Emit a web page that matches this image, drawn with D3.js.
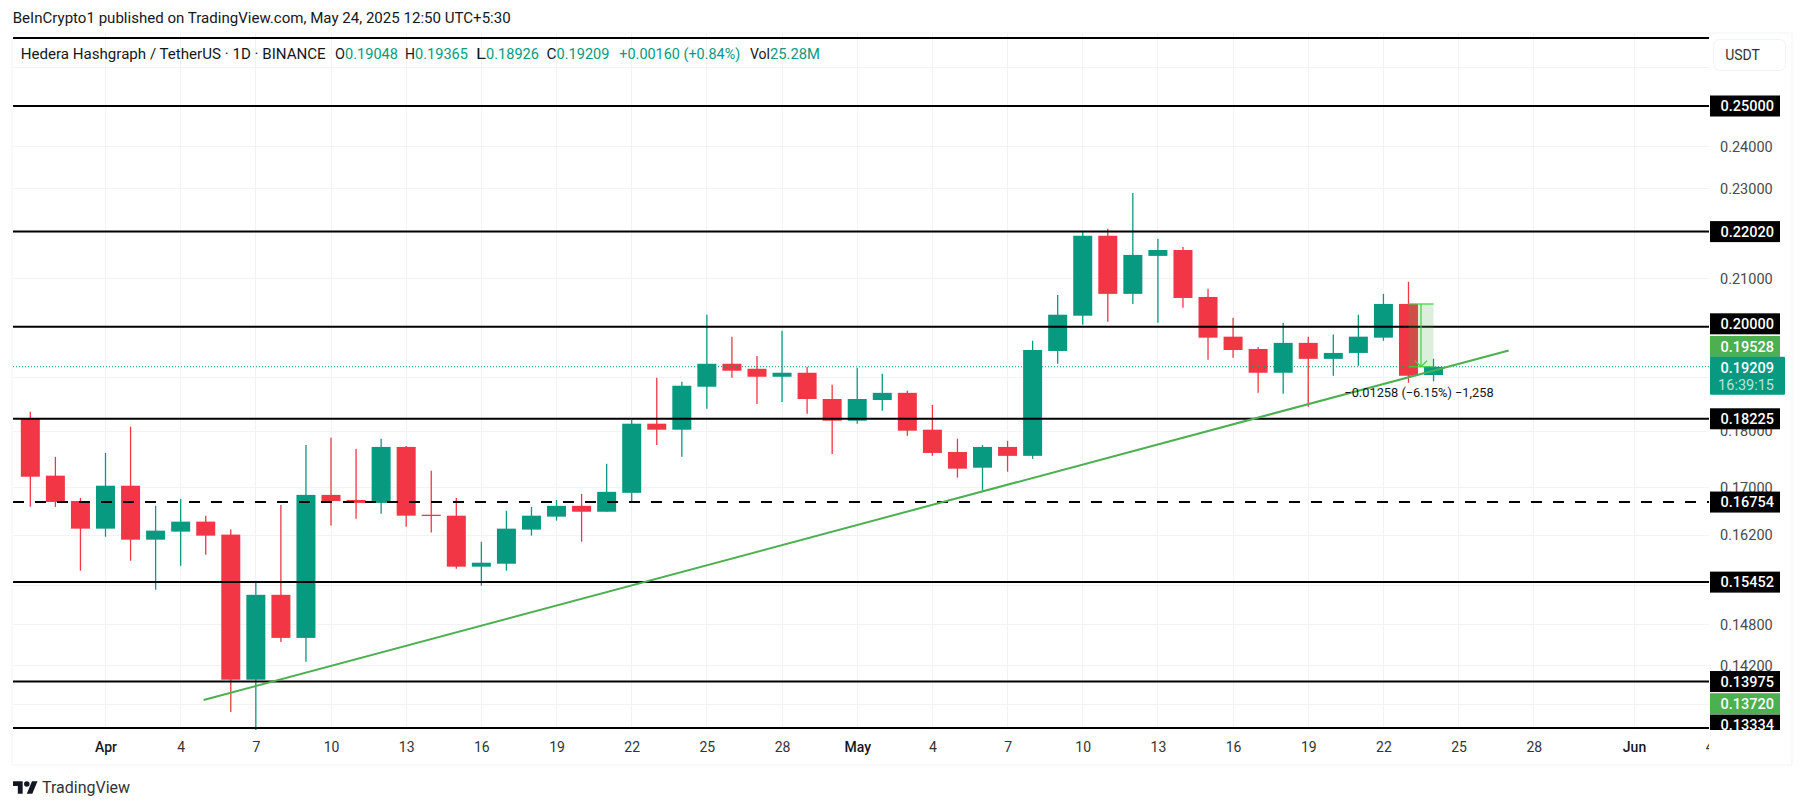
<!DOCTYPE html>
<html>
<head>
<meta charset="utf-8">
<title>HBAR / USDT</title>
<script src="https://d3js.org/d3.v7.min.js"></script>
<style>
  body { margin: 0; background: #fff; }
  text { font-family: Roboto, sans-serif; }
  .date-axis text { font-size: 14px; fill: #333; }
  .price-axis text { font-size: 14.5px; fill: #4a4a4a; }
</style>
</head>
<body>
<div id="chart"></div>
<script>
const days = [
  '2025-03-29', '2025-03-30', '2025-03-31',
  '2025-04-01', '2025-04-02', '2025-04-03', '2025-04-04', '2025-04-05', '2025-04-06', '2025-04-07', '2025-04-08', '2025-04-09', '2025-04-10',
  '2025-04-11', '2025-04-12', '2025-04-13', '2025-04-14', '2025-04-15', '2025-04-16', '2025-04-17', '2025-04-18', '2025-04-19', '2025-04-20',
  '2025-04-21', '2025-04-22', '2025-04-23', '2025-04-24', '2025-04-25', '2025-04-26', '2025-04-27', '2025-04-28', '2025-04-29', '2025-04-30',
  '2025-05-01', '2025-05-02', '2025-05-03', '2025-05-04', '2025-05-05', '2025-05-06', '2025-05-07', '2025-05-08', '2025-05-09', '2025-05-10',
  '2025-05-11', '2025-05-12', '2025-05-13', '2025-05-14', '2025-05-15', '2025-05-16', '2025-05-17', '2025-05-18', '2025-05-19', '2025-05-20',
  '2025-05-21', '2025-05-22', '2025-05-23', '2025-05-24'
]
const opens = [
  0.18226, 0.17207, 0.16772,
  0.16310, 0.17033, 0.16129, 0.16261, 0.16426, 0.16212, 0.14001, 0.15255, 0.14605, 0.16876,
  0.16789, 0.16740, 0.17714, 0.16541, 0.16525, 0.15695, 0.15742, 0.16294, 0.16509, 0.16690,
  0.16591, 0.16911, 0.18135, 0.18025, 0.18825, 0.19267, 0.19170, 0.19016, 0.19093, 0.18593,
  0.18190, 0.18574, 0.18709, 0.18025, 0.17624, 0.17346, 0.17714, 0.17555, 0.19518, 0.20226,
  0.21928, 0.20677, 0.21486, 0.21614, 0.20613, 0.19802, 0.19557, 0.19093, 0.19678, 0.19363,
  0.19479, 0.19782, 0.20468, 0.19048
]
const highs = [
  0.18354, 0.17537, 0.16824,
  0.17607, 0.18080, 0.16690, 0.16806, 0.16525, 0.16294, 0.15460, 0.16706, 0.17750, 0.17879,
  0.17677, 0.17861, 0.17732, 0.17294, 0.16824, 0.16096, 0.16608, 0.16673, 0.16789, 0.16893,
  0.17415, 0.18208, 0.18997, 0.18920, 0.20246, 0.19802, 0.19421, 0.19923, 0.19209, 0.18863,
  0.19190, 0.19074, 0.18747, 0.18483, 0.17861, 0.17750, 0.17824, 0.19721, 0.20656, 0.22017,
  0.22084, 0.22896, 0.21860, 0.21681, 0.20783, 0.20185, 0.19598, 0.20084, 0.19802, 0.19843,
  0.20246, 0.20677, 0.20932, 0.19365
]
const lows = [
  0.16673, 0.16673, 0.15632,
  0.16178, 0.15789, 0.15334, 0.15711, 0.15884, 0.13553, 0.13307, 0.14545, 0.14257, 0.16360,
  0.16475, 0.16558, 0.16343, 0.16245, 0.15664, 0.15397, 0.15632, 0.16195, 0.16443, 0.16096,
  0.16591, 0.16772, 0.17750, 0.17537, 0.18409, 0.18997, 0.18501, 0.18537, 0.18318, 0.17589,
  0.18135, 0.18373, 0.17916, 0.17555, 0.17172, 0.16946, 0.17276, 0.17502, 0.19267, 0.20044,
  0.20105, 0.20468, 0.20084, 0.20387, 0.19344, 0.19383, 0.18709, 0.18690, 0.18446, 0.19035,
  0.19228, 0.19721, 0.18901, 0.18926
]
const closes = [
  0.17189, 0.16756, 0.16310,
  0.17033, 0.16129, 0.16277, 0.16426, 0.16195, 0.14001, 0.15255, 0.14605, 0.16876, 0.16772,
  0.16740, 0.17714, 0.16525, 0.16525, 0.15695, 0.15758, 0.16310, 0.16525, 0.16690, 0.16591,
  0.16928, 0.18135, 0.18025, 0.18844, 0.19267, 0.19132, 0.19016, 0.19093, 0.18593, 0.18190,
  0.18593, 0.18709, 0.18007, 0.17607, 0.17329, 0.17714, 0.17555, 0.19537, 0.20246, 0.21928,
  0.20677, 0.21507, 0.21614, 0.20592, 0.19782, 0.19537, 0.19093, 0.19678, 0.19363, 0.19479,
  0.19802, 0.20468, 0.19035, 0.19209
]

const dateTicks = [
  '2025-04-01', '2025-04-04', '2025-04-07', '2025-04-10', '2025-04-13', '2025-04-16', '2025-04-19', '2025-04-22', '2025-04-25', '2025-04-28',
  '2025-05-01', '2025-05-04', '2025-05-07', '2025-05-10', '2025-05-13', '2025-05-16', '2025-05-19', '2025-05-22', '2025-05-25', '2025-05-28',
  '2025-06-01', '2025-06-04'
]
const dateTickLabels = ['Apr', '4', '7', '10', '13', '16', '19', '22', '25', '28', 'May', '4', '7', '10', '13', '16', '19', '22', '25', '28', 'Jun', '4']
const monthLabels = ['Apr', 'May', 'Jun']

const priceTicks = [0.24, 0.23, 0.21, 0.18, 0.17, 0.162, 0.148, 0.142]
const hiddenGridPrices = [0.26, 0.25, 0.22, 0.20, 0.19, 0.154, 0.1365]

const solidLevels = [0.26777, 0.25, 0.2202, 0.2, 0.18225, 0.15452, 0.13975, 0.13334]
const dashedLevel = 0.16754
const levelLabels = [0.25, 0.2202, 0.2, 0.18225, 0.16754, 0.15452, 0.13975, 0.13334]
const trendDays = ['2025-04-04T22:00Z', '2025-05-27T00:00Z']
const trendPrices = [0.13716, 0.19528]
const trendLabels = [0.19528, 0.1372]
const lastPrice = 0.19209
const countdown = '16:39:15'
const measureDays = ['2025-05-23', '2025-05-24']
const measurePrices = [0.20467, 0.19209]
const measureText = '\u22120.01258 (\u22126.15%) \u22121,258'

const legendLabels = ['O', 'H', 'L', 'C']
const legendValues = ['0.19048', '0.19365', '0.18926', '0.19209']

const width = 1804
const height = 809
const plotLeft = 13
const plotRight = 1709
const plotTop = 33
const plotBottom = 730

const green = '#089981'
const red = '#f23645'
const lineGreen = '#4caf50'
const ink = '#131722'
const gridColor = '#f2f3f5'

const parseDay = d => new Date(d.length === 10 ? d + 'T00:00Z' : d)

const x = d3.scaleUtc()
  .domain([parseDay('2025-04-01'), parseDay('2025-06-01')])
  .range([105.5, 1634])
const y = d3.scaleLog()
  .domain([0.25, 0.13334])
  .range([106, 728])

const svg = d3.select('#chart')
  .append('svg')
  .attr('width', width)
  .attr('height', height)

const defs = svg.append('defs')
defs.append('clipPath').attr('id', 'plot-clip')
  .append('rect')
  .attr('x', plotLeft).attr('y', plotTop)
  .attr('width', plotRight - plotLeft).attr('height', plotBottom - plotTop)
defs.append('clipPath').attr('id', 'scale-clip')
  .append('rect')
  .attr('x', plotRight).attr('y', plotTop)
  .attr('width', 84).attr('height', plotBottom - plotTop)
defs.append('clipPath').attr('id', 'date-clip')
  .append('rect')
  .attr('x', plotLeft).attr('y', plotBottom)
  .attr('width', plotRight - plotLeft).attr('height', 35)

// Text that has to end where the reference ends
function putText (parent, str, left, top, textWidth, fill, size) {
  return parent.append('text')
    .attr('x', left)
    .attr('y', top)
    .attr('dy', '0.35em')
    .attr('textLength', textWidth)
    .attr('lengthAdjust', 'spacingAndGlyphs')
    .style('font-size', `${size}px`)
    .attr('fill', fill)
    .text(str)
}

// Outer frame
svg.append('rect')
  .attr('x', 12).attr('y', plotTop)
  .attr('width', 1780).attr('height', 732)
  .attr('fill', 'none')
  .attr('stroke', '#f3f3f3')

// Grid
const grid = svg.append('g').attr('stroke', gridColor).attr('shape-rendering', 'crispEdges')
grid.selectAll('.vgrid')
  .data(dateTicks)
  .join('line')
  .attr('class', 'vgrid')
  .attr('x1', d => x(parseDay(d)))
  .attr('x2', d => x(parseDay(d)))
  .attr('y1', plotTop)
  .attr('y2', plotBottom)
  .attr('clip-path', 'url(#plot-clip)')
grid.selectAll('.hgrid')
  .data(priceTicks.concat(hiddenGridPrices))
  .join('line')
  .attr('class', 'hgrid')
  .attr('x1', plotLeft)
  .attr('x2', plotRight)
  .attr('y1', d => y(d))
  .attr('y2', d => y(d))

// Axes
const dateAxis = d3.axisBottom(x)
  .tickValues(dateTicks.map(parseDay))
  .tickSize(0)
  .tickPadding(12)
  .tickFormat((d, i) => dateTickLabels[i])
svg.append('g')
  .attr('clip-path', 'url(#date-clip)')
  .append('g')
  .attr('class', 'date-axis')
  .attr('transform', `translate(0,${plotBottom})`)
  .call(dateAxis)
  .call(g => g.select('.domain').remove())
  .call(g => g.selectAll('text')
    .filter(function () { return monthLabels.includes(this.textContent) })
    .style('fill', ink)
    .style('font-weight', 500))

const priceAxis = d3.axisRight(y)
  .tickValues(priceTicks)
  .tickSize(0)
  .tickPadding(11)
  .tickFormat(d => d.toFixed(5))
svg.append('g')
  .attr('class', 'price-axis')
  .attr('transform', `translate(${plotRight},0)`)
  .call(priceAxis)
  .call(g => g.select('.domain').remove())

// Candles
const candles = days.map((day, i) => ({
  day: parseDay(day),
  open: opens[i],
  high: highs[i],
  low: lows[i],
  close: closes[i]
}))
const candleWidth = 19
const candleColor = d => (d.close >= d.open ? green : red)
const candleGroup = svg.append('g').attr('clip-path', 'url(#plot-clip)')
candleGroup.selectAll('.wick')
  .data(candles)
  .join('line')
  .attr('class', 'wick')
  .attr('x1', d => x(d.day))
  .attr('x2', d => x(d.day))
  .attr('y1', d => y(d.high))
  .attr('y2', d => y(d.low))
  .attr('stroke', candleColor)
  .attr('stroke-width', 1.3)
candleGroup.selectAll('.body')
  .data(candles)
  .join('rect')
  .attr('class', 'body')
  .attr('x', d => x(d.day) - candleWidth / 2)
  .attr('y', d => y(Math.max(d.open, d.close)))
  .attr('width', candleWidth)
  .attr('height', d => Math.max(1.3, Math.abs(y(d.open) - y(d.close))))
  .attr('fill', candleColor)

// Last price line
svg.append('line')
  .attr('x1', plotLeft)
  .attr('x2', plotRight)
  .attr('y1', y(lastPrice))
  .attr('y2', y(lastPrice))
  .attr('stroke', green)
  .attr('stroke-dasharray', '1 2')

// Price levels
svg.selectAll('.level')
  .data(solidLevels)
  .join('line')
  .attr('class', 'level')
  .attr('x1', plotLeft)
  .attr('x2', plotRight)
  .attr('y1', d => y(d))
  .attr('y2', d => y(d))
  .attr('stroke', '#000')
  .attr('stroke-width', 2)
svg.append('line')
  .attr('x1', plotLeft)
  .attr('x2', plotRight)
  .attr('y1', y(dashedLevel))
  .attr('y2', y(dashedLevel))
  .attr('stroke', '#000')
  .attr('stroke-width', 2)
  .attr('stroke-dasharray', '11 11')

// Measure tool on the last two candles
const measureLeft = x(parseDay(measureDays[0]))
const measureRight = x(parseDay(measureDays[1]))
const measureMid = (measureLeft + measureRight) / 2
const measureTop = y(measurePrices[0])
const measureBottom = y(measurePrices[1])
const measureColor = '#3fd03f'
const measure = svg.append('g')
measure.append('rect')
  .attr('x', measureLeft)
  .attr('y', measureTop)
  .attr('width', measureRight - measureLeft)
  .attr('height', measureBottom - measureTop)
  .attr('fill', lineGreen)
  .attr('fill-opacity', 0.2)
measure.selectAll('.measure-edge')
  .data(measurePrices)
  .join('line')
  .attr('class', 'measure-edge')
  .attr('x1', measureLeft)
  .attr('x2', measureRight)
  .attr('y1', d => y(d))
  .attr('y2', d => y(d))
  .attr('stroke', measureColor)
  .attr('stroke-width', 1.2)
measure.append('line')
  .attr('x1', measureMid)
  .attr('x2', measureMid)
  .attr('y1', measureTop)
  .attr('y2', measureBottom)
  .attr('stroke', measureColor)
  .attr('stroke-width', 1.2)
measure.append('path')
  .attr('d', `M${measureMid - 6},${measureBottom - 6}L${measureMid},${measureBottom}L${measureMid + 6},${measureBottom - 6}`)
  .attr('fill', 'none')
  .attr('stroke', measureColor)
  .attr('stroke-width', 1.2)

// Trend line
svg.append('line')
  .attr('x1', x(parseDay(trendDays[0])))
  .attr('x2', x(parseDay(trendDays[1])))
  .attr('y1', y(trendPrices[0]))
  .attr('y2', y(trendPrices[1]))
  .attr('stroke', lineGreen)
  .attr('stroke-width', 2)

svg.append('text')
  .attr('x', measureMid - 2)
  .attr('y', 393)
  .attr('dy', '0.35em')
  .attr('text-anchor', 'middle')
  .style('font-size', '12.8px')
  .attr('fill', ink)
  .text(measureText)

// Badges on the price scale, nudged apart like the original does
const badgeNudge = new Map([[0.2, -3], [0.19528, -4], [0.1372, 4], [0.13334, -3]])
const badgeLeft = plotRight + 1
const badgeWidth = 70
const badgeHeight = 21
const badges = svg.append('g').attr('clip-path', 'url(#scale-clip)')

function drawBadge (value, fill) {
  const centre = y(value) + (badgeNudge.get(value) || 0)
  badges.append('rect')
    .attr('x', badgeLeft)
    .attr('y', centre - badgeHeight / 2)
    .attr('width', badgeWidth)
    .attr('height', badgeHeight)
    .attr('fill', fill)
  badges.append('text')
    .attr('x', badgeLeft + 64)
    .attr('y', centre)
    .attr('dy', '0.35em')
    .attr('text-anchor', 'end')
    .style('font-size', '14.5px')
    .style('font-weight', 500)
    .attr('fill', '#fff')
    .text(value.toFixed(5))
}

levelLabels.forEach(d => drawBadge(d, '#000'))
trendLabels.forEach(d => drawBadge(d, lineGreen))

const lastCentre = y(lastPrice)
badges.append('rect')
  .attr('x', badgeLeft)
  .attr('y', lastCentre - 10)
  .attr('width', 75)
  .attr('height', 38)
  .attr('rx', 1)
  .attr('fill', green)
badges.append('text')
  .attr('x', badgeLeft + 64)
  .attr('y', lastCentre + 1.5)
  .attr('dy', '0.35em')
  .attr('text-anchor', 'end')
  .style('font-size', '14.5px')
  .style('font-weight', 500)
  .attr('fill', '#fff')
  .text(lastPrice.toFixed(5))
badges.append('text')
  .attr('x', badgeLeft + 64)
  .attr('y', lastCentre + 18.5)
  .attr('dy', '0.35em')
  .attr('text-anchor', 'end')
  .style('font-size', '14.5px')
  .attr('fill', '#b5e6dc')
  .text(countdown)

// Currency button
svg.append('rect')
  .attr('x', 1713.5).attr('y', 39.5)
  .attr('width', 72).attr('height', 31)
  .attr('rx', 6)
  .attr('fill', '#fff')
  .attr('stroke', '#f0f3fa')
svg.append('text')
  .attr('x', 1742.5).attr('y', 55)
  .attr('dy', '0.35em')
  .attr('text-anchor', 'middle')
  .style('font-size', '14px')
  .attr('fill', '#333')
  .text('USDT')

// Header and legend
putText(svg, 'BeInCrypto1 published on TradingView.com, May 24, 2025 12:50 UTC+5:30', 12.7, 18.5, 498, ink, 14)
putText(svg, 'Hedera Hashgraph / TetherUS \u00b7 1D \u00b7 BINANCE', 20.7, 54, 305, ink, 14)

const legendLabelLeft = [335, 405, 476, 546.5]
legendLabels.forEach((label, i) => {
  putText(svg, label, legendLabelLeft[i], 54, 10, ink, 14)
  putText(svg, legendValues[i], legendLabelLeft[i] + 10, 54, 53, green, 14)
})
putText(svg, '+0.00160 (+0.84%)', 619.3, 54, 121, green, 14)
putText(svg, 'Vol', 750, 54, 20, ink, 14)
putText(svg, '25.28M', 770, 54, 50, green, 14)

// TradingView mark
const logo = svg.append('g').attr('transform', 'translate(13,778.5) scale(0.69)').attr('fill', ink)
logo.append('path').attr('d', 'M14 22H7V11H0V4h14v18zM28 22h-8l7.5-18h8L28 22z')
logo.append('circle').attr('cx', 20).attr('cy', 8).attr('r', 4)
putText(svg, 'TradingView', 42, 787, 88, '#333', 16)
</script>
</body>
</html>
